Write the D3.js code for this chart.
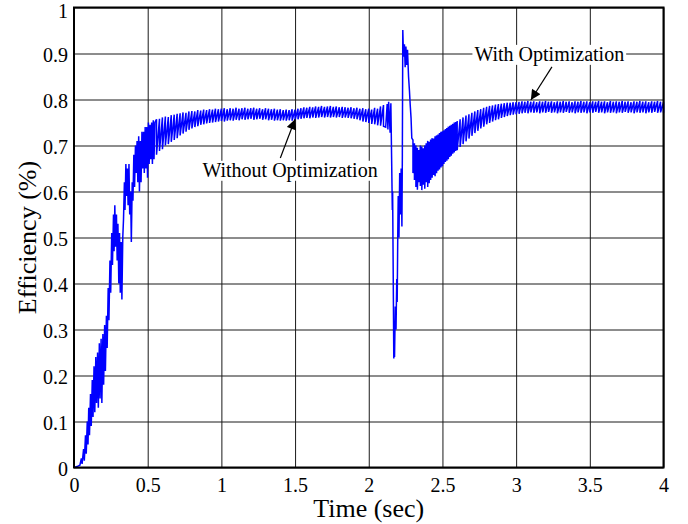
<!DOCTYPE html>
<html>
<head>
<meta charset="utf-8">
<script src="https://cdn.jsdelivr.net/npm/d3@7"></script>
<style>
  body { margin: 0; background: #fff; }
  text { font-family: "Liberation Serif", "Times New Roman", serif; fill: #000; }
</style>
</head>
<body>
<div id="chart"></div>
<script>
// tick values and labels
var x_ticks = [0, 0.5, 1, 1.5, 2, 2.5, 3, 3.5, 4];
var x_labels = ["0", "0.5", "1", "1.5", "2", "2.5", "3", "3.5", "4"];
var y_ticks = [0, 0.1, 0.2, 0.3, 0.4, 0.5, 0.6, 0.7, 0.8, 0.9, 1];
var y_labels = ["0", "0.1", "0.2", "0.3", "0.4", "0.5", "0.6", "0.7", "0.8", "0.9", "1"];

// efficiency trace
// single samples: [time (sec), efficiency]
var rise = [[0,0],[0.02,0.002],[0.04,0.005],[0.05,0.02],[0.055,0.008],[0.065,0.04],[0.07,0.015],[0.078,0.07],[0.083,0.03],
  [0.09,0.1],[0.095,0.05],[0.1,0.13],[0.105,0.07],[0.112,0.16],[0.117,0.09],[0.124,0.19],[0.129,0.11],[0.136,0.22],
  [0.141,0.12],[0.148,0.24],[0.153,0.14],[0.16,0.25],[0.165,0.13],[0.172,0.27],[0.177,0.15],[0.184,0.28],[0.189,0.14],
  [0.196,0.29],[0.201,0.18],[0.208,0.31],[0.213,0.21],[0.22,0.33],[0.225,0.26],[0.232,0.39],[0.237,0.32],[0.244,0.45],
  [0.249,0.38],[0.256,0.51],[0.261,0.44],[0.268,0.55],[0.272,0.47],[0.277,0.57],[0.282,0.48],[0.288,0.55],[0.293,0.45],
  [0.298,0.53],[0.304,0.40],[0.309,0.51],[0.314,0.38],[0.32,0.49],[0.325,0.365],[0.331,0.5],[0.336,0.54],[0.342,0.62],
  [0.346,0.56],[0.352,0.66],[0.357,0.59],[0.362,0.65],[0.367,0.57],[0.373,0.66],[0.378,0.55],[0.384,0.6],[0.389,0.49],
  [0.395,0.62],[0.4,0.58],[0.406,0.68],[0.411,0.61],[0.417,0.7],[0.422,0.64],[0.428,0.71],[0.433,0.62],[0.439,0.72],
  [0.444,0.6],[0.45,0.71],[0.455,0.62],[0.461,0.73],[0.466,0.65],[0.472,0.73],[0.477,0.64],[0.483,0.74],[0.488,0.65],
  [0.494,0.74],[0.499,0.63],[0.505,0.75],[0.51,0.66],[0.516,0.745],[0.521,0.67],[0.527,0.75],[0.532,0.66],[0.538,0.755],
  [0.543,0.67],[0.549,0.75]];

// fast ripple, stored as [time, max, min] per sample
var plateau = [[0.56,0.757,0.68],[0.58,0.758,0.688],[0.60,0.761,0.692],[0.62,0.763,0.70],[0.64,0.762,0.703],
  [0.66,0.766,0.708],[0.68,0.767,0.712],[0.70,0.769,0.716],[0.72,0.77,0.722],[0.74,0.772,0.726],[0.76,0.771,0.73],
  [0.78,0.774,0.734],[0.80,0.775,0.737],[0.82,0.774,0.74],[0.84,0.777,0.742],[0.86,0.776,0.745],[0.88,0.778,0.746],
  [0.90,0.777,0.748],[0.92,0.779,0.749],[0.94,0.778,0.75],[0.96,0.78,0.751],[0.98,0.779,0.752],[1.00,0.78,0.753],
  [1.02,0.781,0.752],[1.04,0.779,0.754],[1.06,0.781,0.755],[1.08,0.78,0.754],[1.10,0.782,0.756],[1.12,0.78,0.755],
  [1.14,0.781,0.757],[1.16,0.782,0.756],[1.18,0.78,0.757],[1.20,0.781,0.758],[1.22,0.782,0.756],[1.24,0.78,0.757],
  [1.26,0.781,0.758],[1.28,0.779,0.756],[1.30,0.781,0.757],[1.32,0.78,0.755],[1.34,0.779,0.756],[1.36,0.78,0.754],
  [1.38,0.778,0.755],[1.40,0.779,0.754],[1.42,0.777,0.755],[1.44,0.778,0.754],[1.46,0.777,0.755],[1.48,0.779,0.754],
  [1.50,0.778,0.756],[1.52,0.78,0.757],[1.54,0.781,0.758],[1.56,0.783,0.759],[1.58,0.782,0.76],[1.60,0.784,0.759],
  [1.62,0.783,0.761],[1.64,0.785,0.76],[1.66,0.784,0.761],[1.68,0.786,0.762],[1.70,0.784,0.761],[1.72,0.785,0.762],
  [1.74,0.786,0.761],[1.76,0.784,0.762],[1.78,0.785,0.761],[1.80,0.783,0.762],[1.82,0.784,0.76],[1.84,0.783,0.761],
  [1.86,0.782,0.76],[1.88,0.783,0.759],[1.90,0.781,0.758],[1.92,0.782,0.757],[1.94,0.78,0.755],[1.96,0.781,0.752],
  [1.98,0.779,0.751],[2.00,0.78,0.749],[2.02,0.778,0.747],[2.04,0.782,0.746],[2.06,0.78,0.744],[2.08,0.785,0.743],
  [2.10,0.788,0.742]];

// load step: single samples again
var disturbance = [[2.115,0.74],[2.125,0.79],[2.13,0.735],[2.135,0.795],[2.145,0.728],[2.15,0.792],[2.155,0.676],
  [2.16,0.56],[2.162,0.6],[2.166,0.42],[2.17,0.237],[2.172,0.30],[2.175,0.24],[2.18,0.35],[2.185,0.3],[2.19,0.41],
  [2.193,0.36],[2.197,0.51],[2.2,0.59],[2.205,0.5],[2.21,0.64],[2.215,0.55],[2.22,0.65],[2.225,0.524],[2.228,0.68],
  [2.231,0.951],[2.236,0.893],[2.242,0.92],[2.247,0.87],[2.252,0.915],[2.258,0.875],[2.263,0.908],[2.27,0.85],
  [2.276,0.82],[2.281,0.79],[2.287,0.76],[2.292,0.716]];

// [time, max, min]
var recovery = [[2.30,0.712,0.64],[2.31,0.705,0.625],[2.32,0.70,0.61],[2.33,0.695,0.604],[2.34,0.69,0.62],
  [2.35,0.70,0.612],[2.36,0.698,0.603],[2.37,0.694,0.615],[2.38,0.70,0.606],[2.39,0.705,0.62],[2.40,0.71,0.61],
  [2.41,0.708,0.618],[2.42,0.713,0.625],[2.43,0.716,0.63],[2.44,0.715,0.636],[2.45,0.72,0.633],[2.46,0.722,0.64],
  [2.47,0.724,0.645],[2.48,0.727,0.648],[2.49,0.73,0.652],[2.50,0.731,0.655],[2.51,0.733,0.66],[2.52,0.736,0.664],
  [2.53,0.738,0.667],[2.54,0.741,0.67],[2.55,0.743,0.675],[2.56,0.745,0.678],[2.57,0.747,0.682],[2.58,0.75,0.685],
  [2.59,0.751,0.688],[2.60,0.753,0.69],[2.62,0.757,0.697],[2.64,0.761,0.703],[2.66,0.765,0.709],[2.68,0.768,0.715],
  [2.70,0.771,0.721],[2.72,0.774,0.727],[2.74,0.777,0.732],[2.76,0.779,0.737],[2.78,0.782,0.741],[2.80,0.784,0.746],
  [2.82,0.786,0.749],[2.84,0.787,0.752],[2.86,0.789,0.755],[2.88,0.79,0.757],[2.90,0.791,0.76],[2.92,0.792,0.762],
  [2.94,0.793,0.764],[2.96,0.793,0.766],[2.98,0.794,0.767],[3.00,0.794,0.768]];

// [time, max, min]
var steady = [[3.02,0.795,0.769],[3.04,0.796,0.77],[3.06,0.795,0.771],[3.08,0.797,0.77],[3.10,0.795,0.772],
  [3.12,0.796,0.771],[3.14,0.794,0.772],[3.16,0.796,0.77],[3.18,0.795,0.772],[3.20,0.797,0.771],[3.22,0.795,0.773],
  [3.24,0.796,0.771],[3.26,0.794,0.772],[3.28,0.796,0.77],[3.30,0.795,0.772],[3.32,0.797,0.771],[3.34,0.795,0.773],
  [3.36,0.796,0.771],[3.38,0.794,0.772],[3.40,0.796,0.77],[3.42,0.795,0.772],[3.44,0.797,0.771],[3.46,0.795,0.772],
  [3.48,0.796,0.77],[3.50,0.794,0.772],[3.52,0.796,0.771],[3.54,0.795,0.773],[3.56,0.797,0.771],[3.58,0.795,0.772],
  [3.60,0.796,0.77],[3.62,0.794,0.772],[3.64,0.797,0.771],[3.66,0.795,0.772],[3.68,0.796,0.77],[3.70,0.795,0.772],
  [3.72,0.797,0.771],[3.74,0.795,0.773],[3.76,0.796,0.771],[3.78,0.794,0.772],[3.80,0.796,0.77],[3.82,0.795,0.772],
  [3.84,0.797,0.771],[3.86,0.795,0.772],[3.88,0.796,0.77],[3.90,0.794,0.772],[3.92,0.796,0.771],[3.94,0.795,0.773],
  [3.96,0.797,0.771],[3.98,0.795,0.772],[4.00,0.794,0.771]];

// annotations: label, text anchor point, arrow tail, arrow tip (data units)
var notes = [
  {label: "Without Optimization", tx: 1.466, ty: 0.632, x0: 1.40, y0: 0.673, x1: 1.50, y1: 0.757},
  {label: "With Optimization", tx: 3.225, ty: 0.884, x0: 3.243, y0: 0.871, x1: 3.10, y1: 0.799}
];

// a [time, max, min] sample is drawn as max then min at the same time
function unfold(band) {
    var out = [];
    band.forEach(function(d) { out.push([d[0], d[1]]); out.push([d[0], d[2]]); });
    return out;
}

var trace = rise.concat(unfold(plateau), disturbance, unfold(recovery), unfold(steady));

/*
 *  LAYOUT
 */
var view_width = 688, view_height = 524;
var margin = {top: 7.5, left: 74, right: 24.5, bottom: 56.5};
var width = view_width - margin.left - margin.right;
var height = view_height - margin.top - margin.bottom;

var svg = d3.select('#chart')
    .append('svg')
        .attr('width', view_width)
        .attr('height', view_height);

var defs = svg.append('defs');
defs.append('marker')
    .attr('id', 'head')
    .attr('viewBox', '0 0 10 10')
    .attr('refX', 10)
    .attr('refY', 5)
    .attr('markerWidth', 13)
    .attr('markerHeight', 10)
    .attr('markerUnits', 'userSpaceOnUse')
    .attr('orient', 'auto')
  .append('path')
    .attr('d', 'M0,0 L10,5 L0,10 z')
    .attr('fill', '#000');

var g = svg.append('g')
    .attr('transform', 'translate(' + margin.left + ',' + margin.top + ')');

var x_scale = d3.scaleLinear().domain([0, 4]).range([0, width]);
var y_scale = d3.scaleLinear().domain([0, 1]).range([height, 0]);

// grid
g.append('g')
    .attr('class', 'grid')
    .call(d3.axisBottom(x_scale).tickValues(x_ticks).tickSize(height).tickFormat(''))
    .call(function(s) { s.select('.domain').remove(); })
    .selectAll('line')
        .attr('stroke', '#1a1a1a')
        .attr('stroke-width', 1);

g.append('g')
    .attr('class', 'grid')
    .call(d3.axisLeft(y_scale).tickValues(y_ticks).tickSize(-width).tickFormat(''))
    .call(function(s) { s.select('.domain').remove(); })
    .selectAll('line')
        .attr('stroke', '#1a1a1a')
        .attr('stroke-width', 1);

// the trace
var valueline = d3.line()
    .x(function(d) { return x_scale(d[0]); })
    .y(function(d) { return y_scale(d[1]); });

g.append('path')
    .datum(trace)
    .attr('fill', 'none')
    .attr('stroke', '#0000ff')
    .attr('stroke-width', 1.5)
    .attr('d', valueline);

// frame
g.append('rect')
    .attr('x', 0).attr('y', 0)
    .attr('width', width).attr('height', height)
    .attr('fill', 'none')
    .attr('stroke', '#000')
    .attr('stroke-width', 2);

// tick labels
var x_axis = g.append('g')
    .attr('transform', 'translate(0,' + height + ')')
    .call(d3.axisBottom(x_scale).tickValues(x_ticks).tickSize(0).tickPadding(0)
        .tickFormat(function(d, i) { return x_labels[i]; }));
x_axis.select('.domain').remove();
x_axis.selectAll('text')
    .attr('y', 24.5)
    .attr('dy', null)
    .style('font-size', '20px')
    .style('font-family', '"Liberation Serif", "Times New Roman", serif')
    .attr('fill', '#000');

var y_axis = g.append('g')
    .call(d3.axisLeft(y_scale).tickValues(y_ticks).tickSize(0).tickPadding(0)
        .tickFormat(function(d, i) { return y_labels[i]; }));
y_axis.select('.domain').remove();
y_axis.selectAll('text')
    .attr('x', -6)
    .attr('dy', function(d) { return d === 1 ? '0.5em' : '0.4em'; })
    .style('font-size', '20px')
    .style('font-family', '"Liberation Serif", "Times New Roman", serif')
    .attr('fill', '#000');

// axis titles
svg.append('text')
    .attr('x', margin.left + width / 2)
    .attr('y', 517)
    .attr('text-anchor', 'middle')
    .style('font-size', '26px')
    .text('Time (sec)');

svg.append('text')
    .attr('transform', 'translate(36,' + (margin.top + height / 2) + ')rotate(-90)')
    .attr('text-anchor', 'middle')
    .style('font-size', '26px')
    .text('Efficiency (%)');

// annotations
notes.forEach(function(n) {
    var lab = g.append('g');
    var bg = lab.append('rect').attr('fill', '#fff');
    var txt = lab.append('text')
        .attr('x', x_scale(n.tx))
        .attr('y', y_scale(n.ty))
        .attr('text-anchor', 'middle')
        .style('font-size', '20px')
        .text(n.label);
    var bb = txt.node().getBBox();
    bg.attr('x', bb.x - 2).attr('y', bb.y + 2)
      .attr('width', bb.width + 4).attr('height', bb.height - 3);

    g.append('line')
        .attr('x1', x_scale(n.x0)).attr('y1', y_scale(n.y0))
        .attr('x2', x_scale(n.x1)).attr('y2', y_scale(n.y1))
        .attr('stroke', '#000')
        .attr('stroke-width', 1.2)
        .attr('marker-end', 'url(#head)');
});
</script>
</body>
</html>
